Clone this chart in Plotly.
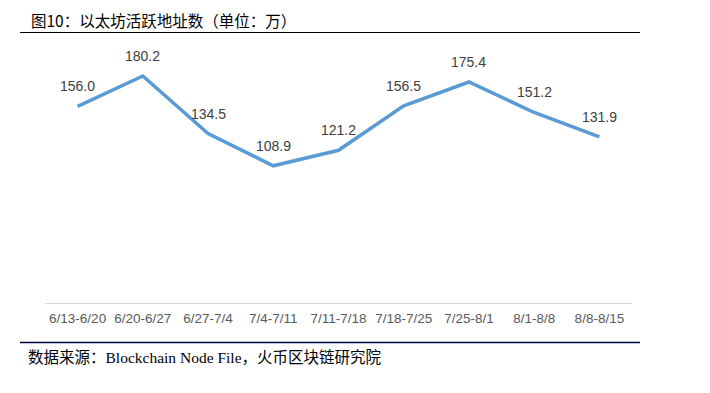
import plotly.graph_objects as go

categories = ["6/13-6/20", "6/20-6/27", "6/27-7/4", "7/4-7/11", "7/11-7/18",
              "7/18-7/25", "7/25-8/1", "8/1-8/8", "8/8-8/15"]
values = [156.0, 180.2, 134.5, 108.9, 121.2, 156.5, 175.4, 151.2, 131.9]
labels = [f"{v:.1f}" for v in values]

# page has an 8px body margin; figure coordinates = page coordinates - 8
OFF = 8
W, H = 694, 377
PL, PR, PT, PB = 45 - OFF, 632 - OFF, 51 - OFF, 303 - OFF  # plot area in figure px


def px(xp):
    return (xp - OFF - PL) / (PR - PL)


def py(yp):
    return (PB - (yp - OFF)) / (PB - PT)


fig = go.Figure()
fig.add_trace(go.Scatter(
    x=categories, y=values, mode="lines",
    line=dict(color="#5B9BD5", width=3.5),
    hoverinfo="skip",
))

annotations = [
    dict(x=c, y=v, text=t, xref="x", yref="y", showarrow=False,
         yanchor="middle", xanchor="center", yshift=20,
         font=dict(family="Liberation Sans, Arial, sans-serif", size=14, color="#404040"))
    for c, v, t in zip(categories, values, labels)
]
annotations += [
    dict(text="图10：以太坊活跃地址数（单位：万）", xref="paper", yref="paper",
         x=px(29), y=py(20), xanchor="left", yanchor="middle", showarrow=False,
         font=dict(family="Noto Sans CJK SC, sans-serif", size=15.5, color="black")),
    dict(text="数据来源：Blockchain Node File，火币区块链研究院", xref="paper", yref="paper",
         x=px(26), y=py(357), xanchor="left", yanchor="middle", showarrow=False,
         font=dict(family="Liberation Serif, Noto Sans CJK SC, serif", size=15.5, color="black")),
]

fig.update_layout(
    width=W, height=H,
    margin=dict(l=PL, r=W - PR, t=PT, b=H - PB),
    paper_bgcolor="white", plot_bgcolor="white",
    showlegend=False,
    xaxis=dict(range=[-0.5, len(categories) - 0.5],
               showgrid=False, zeroline=False, showline=True, linecolor="#D9D9D9",
               linewidth=1, ticks="", ticklabelstandoff=3,
               tickfont=dict(family="Liberation Sans, Arial, sans-serif", size=13.5, color="#595959")),
    yaxis=dict(range=[0, 200], showgrid=False, zeroline=False, showline=False,
               showticklabels=False),
    shapes=[
        dict(type="line", xref="paper", yref="paper",
             x0=px(20), x1=px(640), y0=py(32.5), y1=py(32.5),
             line=dict(color="black", width=1)),
        dict(type="line", xref="paper", yref="paper",
             x0=px(20), x1=px(640), y0=py(342.5), y1=py(342.5),
             line=dict(color="#000040", width=1.3)),
    ],
    annotations=annotations,
)

fig.write_html("out.html")
